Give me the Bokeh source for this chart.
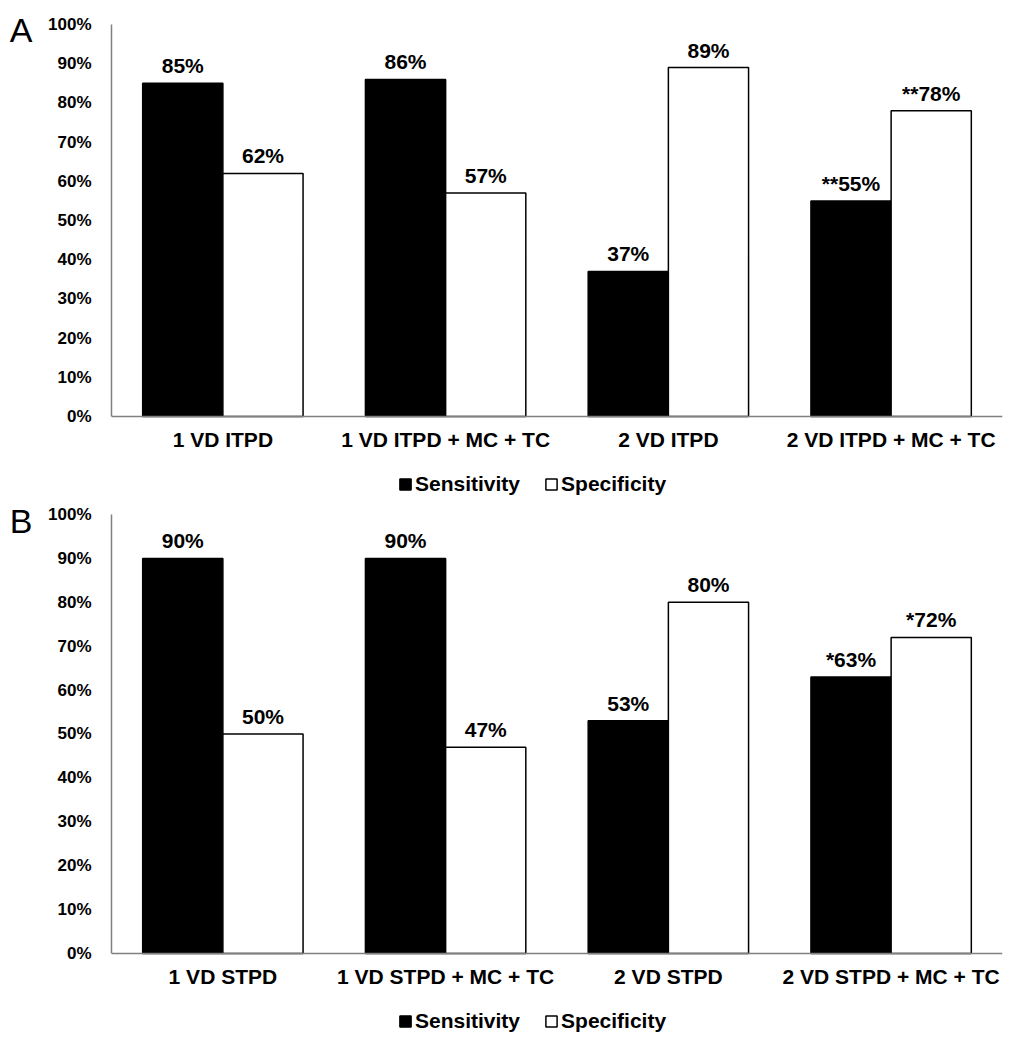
from bokeh.plotting import figure
from bokeh.models import (ColumnDataSource, Range1d, FactorRange, FixedTicker, PrintfTickFormatter,
                          Legend, LegendItem, LinearAxis)
from bokeh.layouts import column
from bokeh.transform import dodge
from bokeh.core.properties import value
from bokeh.embed import file_html
from bokeh.resources import INLINE

# ---- data ----
cats_a = ["1 VD ITPD", "1 VD ITPD + MC + TC", "2 VD ITPD", "2 VD ITPD + MC + TC"]
sens_a = [85, 86, 37, 55]
spec_a = [62, 57, 89, 78]
sig_sens_a = ["", "", "", "**"]
sig_spec_a = ["", "", "", "**"]

cats_b = ["1 VD STPD", "1 VD STPD + MC + TC", "2 VD STPD", "2 VD STPD + MC + TC"]
sens_b = [90, 90, 53, 63]
spec_b = [50, 47, 80, 72]
sig_sens_b = ["", "", "", "*"]
sig_spec_b = ["", "", "", "*"]

y_ticks = [0, 10, 20, 30, 40, 50, 60, 70, 80, 90, 100]
series_names = ["Sensitivity", "Specificity"]
panel_letters = ["A", "B"]

FONT = "Liberation Sans"
AXIS_GREY = "#808080"


def make_panel(letter, cats, sens, spec, sig_sens, sig_spec,
               frame_h, top_border, y_start, legend_y):
    src = ColumnDataSource(dict(
        cat=cats,
        sens=sens,
        spec=spec,
        sens_lbl=[m + str(v) + "%" for m, v in zip(sig_sens, sens)],
        spec_lbl=[m + str(v) + "%" for m, v in zip(sig_spec, spec)],
    ))
    # the frame reaches below 0 % so that the category labels and legend live inside it
    p = figure(x_range=FactorRange(factors=cats, range_padding=0),
               y_range=Range1d(y_start, 100),
               frame_width=891, frame_height=frame_h,
               min_border_left=111, min_border_right=8,
               min_border_top=top_border, min_border_bottom=0,
               output_backend="svg", toolbar_location=None)
    p.outline_line_color = None
    p.xgrid.grid_line_color = None
    p.ygrid.grid_line_color = None
    p.background_fill_color = "white"
    p.border_fill_color = "white"

    r1 = p.vbar(x=dodge("cat", -0.18, range=p.x_range), top="sens", bottom=0, width=0.36, source=src,
                fill_color="black", line_color="black", line_width=1.5)
    r2 = p.vbar(x=dodge("cat", 0.18, range=p.x_range), top="spec", bottom=0, width=0.36, source=src,
                fill_color="white", line_color="black", line_width=1.5)

    for off, ycol, tcol in ((-0.18, "sens", "sens_lbl"), (0.18, "spec", "spec_lbl")):
        p.text(x=dodge("cat", off, range=p.x_range), y=ycol, text=tcol, source=src,
               text_align="center", text_baseline="bottom", y_offset=-6,
               text_font=value(FONT), text_font_size="21px", text_font_style="bold",
               text_color="black")

    # y axis
    yax = p.yaxis[0]
    yax.ticker = FixedTicker(ticks=y_ticks)
    yax.bounds = (0, 100)
    yax.formatter = PrintfTickFormatter(format="%d%%")
    yax.axis_line_color = AXIS_GREY
    yax.axis_line_width = 1.5
    yax.major_tick_line_color = None
    yax.minor_tick_line_color = None
    yax.major_tick_out = 0
    yax.major_tick_in = 0
    yax.major_label_standoff = 20
    yax.major_label_text_font = FONT
    yax.major_label_text_font_size = "17px"
    yax.major_label_text_font_style = "bold"
    yax.major_label_text_color = "black"

    # panel letter, drawn as the single label of an extra, line-less left axis
    lax = LinearAxis(ticker=FixedTicker(ticks=[98.5]),
                     major_label_overrides={98.5: letter},
                     axis_line_color=None, major_tick_line_color=None, minor_tick_line_color=None,
                     major_tick_out=0, major_tick_in=0, major_label_standoff=13,
                     major_label_text_font=FONT, major_label_text_font_size="34px",
                     major_label_text_color="black")
    p.add_layout(lax, "left")

    # x axis, pinned at 0 %
    xax = p.xaxis[0]
    xax.fixed_location = 0
    xax.axis_line_color = AXIS_GREY
    xax.axis_line_width = 1.5
    xax.major_tick_line_color = None
    xax.minor_tick_line_color = None
    xax.major_tick_out = 0
    xax.major_tick_in = 0
    xax.major_label_standoff = 12
    xax.major_label_text_font = FONT
    xax.major_label_text_font_size = "21px"
    xax.major_label_text_font_style = "bold"
    xax.major_label_text_color = "black"

    legend = Legend(items=[LegendItem(label=series_names[0], renderers=[r1]),
                           LegendItem(label=series_names[1], renderers=[r2])],
                    orientation="horizontal", location=(287, legend_y),
                    glyph_width=14, glyph_height=14, label_standoff=3, spacing=24,
                    padding=0, margin=0, border_line_color=None, background_fill_alpha=0,
                    label_text_font=FONT, label_text_font_size="21px",
                    label_text_font_style="bold", label_text_color="black")
    p.add_layout(legend, "center")
    return p


pa = make_panel(panel_letters[0], cats_a, sens_a, spec_a, sig_sens_a, sig_spec_a,
                476, 24, -21.43, 4)
pb = make_panel(panel_letters[1], cats_b, sens_b, spec_b, sig_sens_b, sig_spec_b,
                531, 14, -20.96, 12)

layout = column(pa, pb, spacing=0)
open("out.html", "w").write(file_html(layout, INLINE))
